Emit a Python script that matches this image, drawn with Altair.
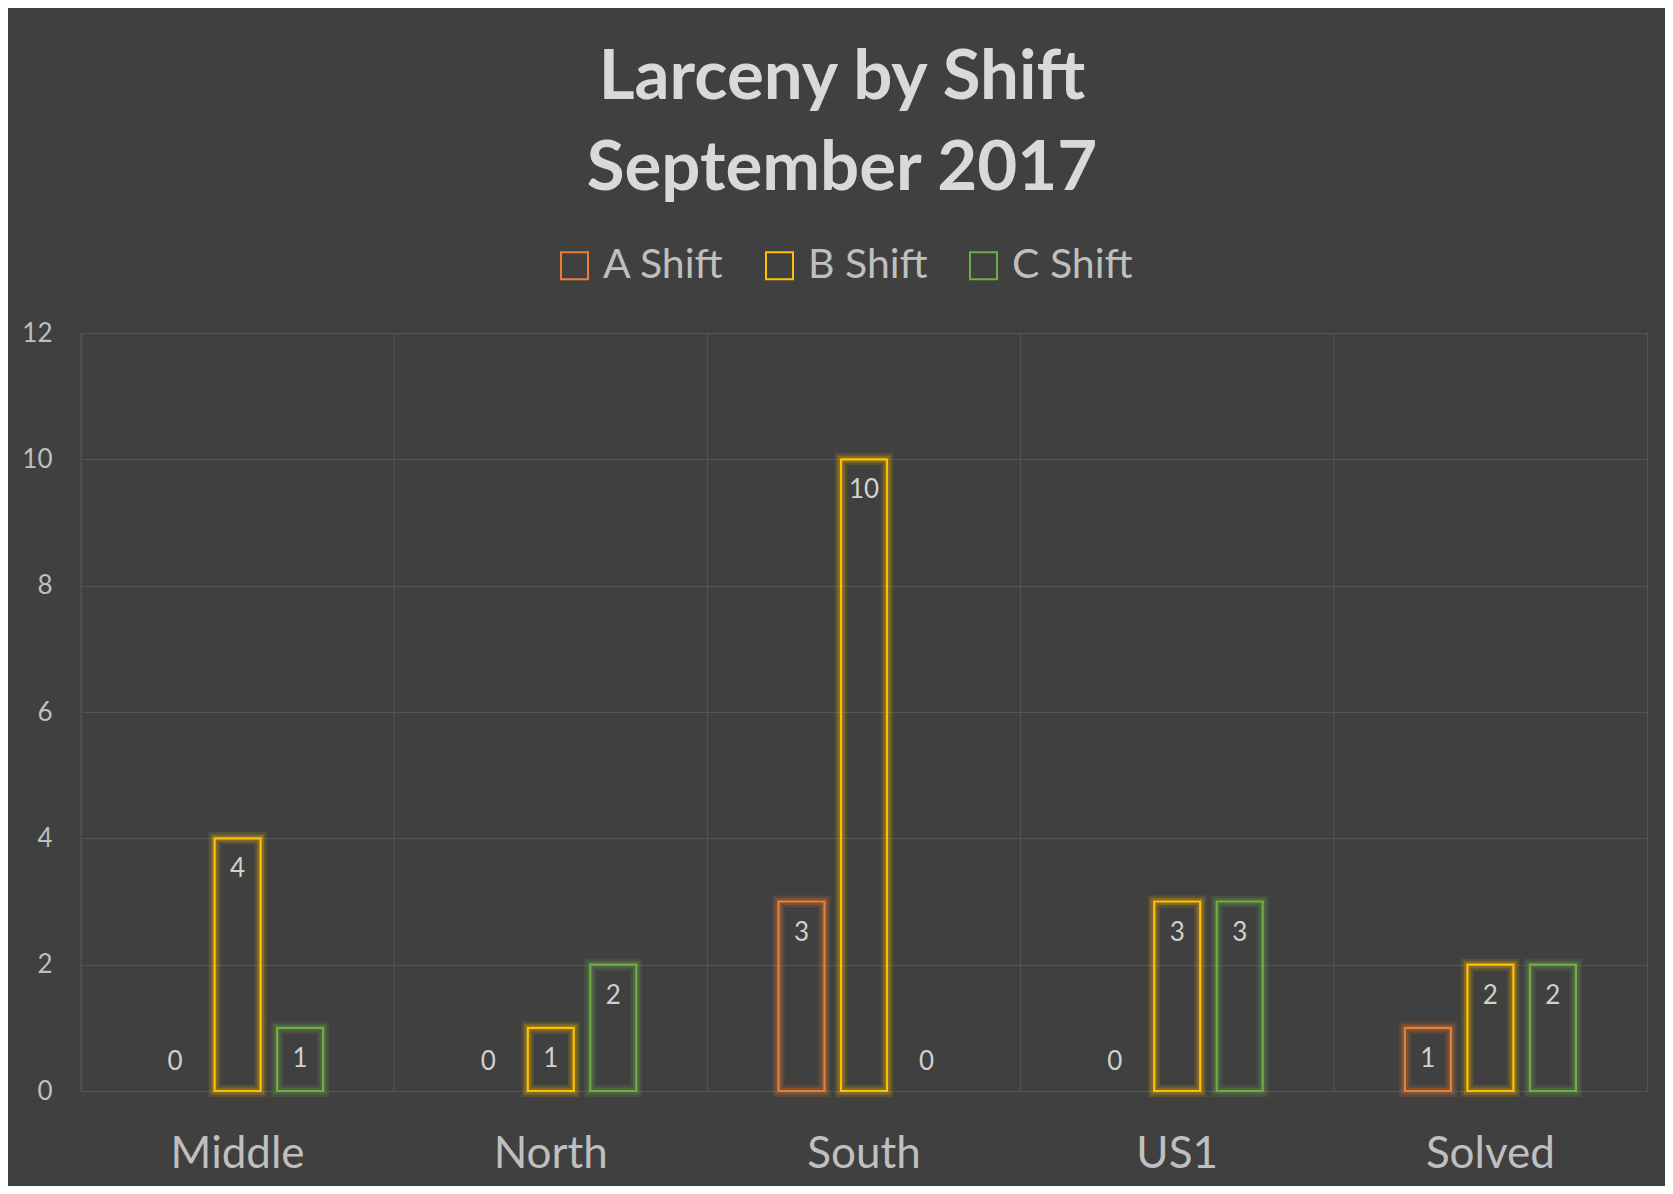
import altair as alt
import pandas as pd

categories = ["Middle", "North", "South", "US1", "Solved"]
shifts = ["A Shift", "B Shift", "C Shift"]
a_shift = [0, 0, 3, 0, 1]
b_shift = [4, 1, 10, 3, 2]
c_shift = [1, 2, 0, 3, 2]
colors = ["#ED7D31", "#FFC000", "#70AD47"]
y_ticks = [0, 2, 4, 6, 8, 10, 12]

rows = []
for series_name, vals in zip(shifts, [a_shift, b_shift, c_shift]):
    for cat, v in zip(categories, vals):
        rows.append({"Category": cat, "Shift": series_name, "Value": v})
df = pd.DataFrame(rows)
cat_df = pd.DataFrame({"Category": categories})

FONT = "Lato"
BG = "#404040"
GRID = "#555555"

x_enc = alt.X("Category:N", sort=categories,
              scale=alt.Scale(paddingInner=0.2545, paddingOuter=0.12725),
              axis=alt.Axis(title=None, labelAngle=0, labelFont=FONT, labelFontSize=44,
                            labelColor="#bfbfbf", ticks=False, tickSize=0, domain=False,
                            grid=False, labelPadding=76, labelBaseline="alphabetic"))
xoff_enc = alt.XOffset("Shift:N", sort=shifts,
                       scale=alt.Scale(paddingInner=0.264, paddingOuter=0.5))
y_enc = alt.Y("Value:Q", scale=alt.Scale(domain=[0, 12], nice=False),
              axis=alt.Axis(title=None, values=y_ticks, labelFont=FONT, labelFontSize=26,
                            labelColor="#bfbfbf", ticks=False, tickSize=0, domain=False,
                            grid=True, gridColor=GRID, gridWidth=1, labelPadding=29))
color_scale = alt.Scale(domain=shifts, range=colors)
color_leg = alt.Color("Shift:N", scale=color_scale,
                      legend=alt.Legend(title=None, orient="none", legendX=473, legendY=-88,
                                        direction="horizontal", symbolType="square",
                                        symbolSize=729, symbolStrokeWidth=2,
                                        labelFont=FONT, labelFontSize=41, labelColor="#bfbfbf",
                                        labelOffset=8, columnPadding=35, padding=0))
color_noleg = alt.Color("Shift:N", scale=color_scale, legend=None)

bars_df = alt.Chart(df).transform_filter("datum.Value > 0")

crisp = bars_df.mark_bar(filled=False, strokeWidth=2.2).encode(
    x=x_enc, xOffset=xoff_enc, y=y_enc, color=color_leg
)
glow1 = bars_df.mark_bar(filled=False, strokeWidth=12, opacity=0.14).encode(
    x=x_enc, xOffset=xoff_enc, y=y_enc, color=color_noleg
)
glow2 = bars_df.mark_bar(filled=False, strokeWidth=7, opacity=0.22).encode(
    x=x_enc, xOffset=xoff_enc, y=y_enc, color=color_noleg
)

labels_pos = alt.Chart(df).transform_filter("datum.Value > 0").mark_text(
    font=FONT, fontSize=26, color="#d0d0d0", baseline="middle", dy=31
).encode(x=x_enc, xOffset=xoff_enc, y=y_enc, text="Value:Q")
labels_zero = alt.Chart(df).transform_filter("datum.Value == 0").mark_text(
    font=FONT, fontSize=26, color="#d0d0d0", baseline="middle", dy=-29.5
).encode(x=x_enc, xOffset=xoff_enc, y=y_enc, text="Value:Q")

main = alt.layer(crisp, glow1, glow2, labels_pos, labels_zero)

vgrid = alt.Chart(cat_df).mark_rule(color=GRID, strokeWidth=1).encode(
    x=alt.X("Category:N", sort=categories, bandPosition=0,
            scale=alt.Scale(paddingInner=0, paddingOuter=0), axis=None)
)

chart = alt.layer(vgrid, main).resolve_scale(x="independent").properties(
    width=1566, height=758,
    title=alt.Title(["Larceny by Shift", "September 2017"], font=FONT, fontSize=69,
                    fontWeight="bold", color="#d9d9d9", lineHeight=91,
                    anchor="middle", dx=-22, offset=41),
    background=BG,
    padding={"left": 73, "top": 325, "right": 18, "bottom": 95},
    autosize=alt.AutoSizeParams(type="none"),
).configure_view(stroke=GRID, strokeWidth=1)

chart.save("out.html", embed_options={"renderer": "svg", "actions": False})
